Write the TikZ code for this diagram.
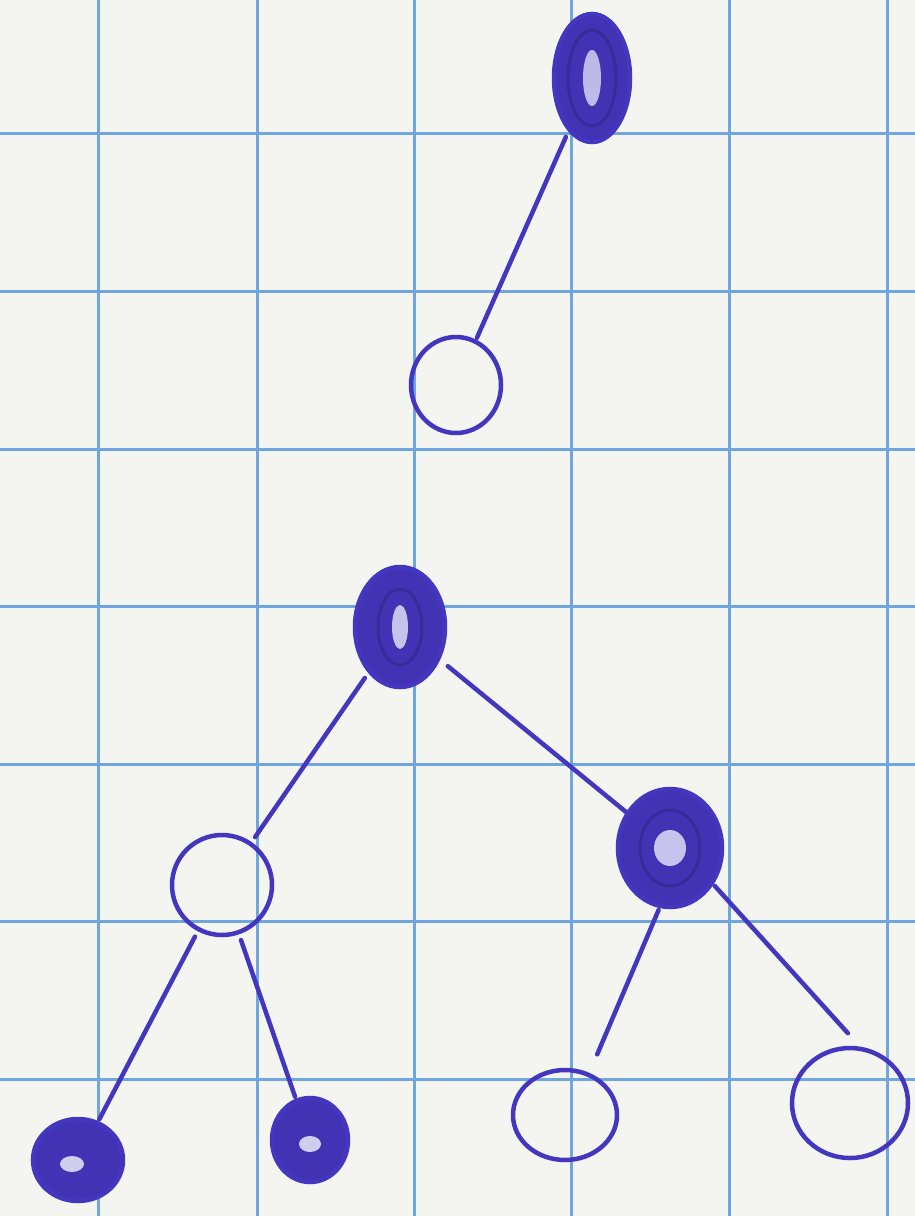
\documentclass[tikz,border=0pt]{standalone}
\usetikzlibrary{shapes.geometric}
\definecolor{paper}{HTML}{F4F4F1}
\definecolor{gridblue}{HTML}{6FA6DE}
\definecolor{ink}{HTML}{4436BE}
\tikzset{
  gridline/.style={gridblue, line width=3pt},
  hollow/.style={ellipse, draw=ink, line width=4.5pt, inner sep=0pt},
  solid/.style={ellipse, draw=ink, line width=4.5pt, fill=ink!95!black, inner sep=0pt},
  edge/.style={ink, line width=4.5pt, line cap=round, shorten <=4pt, shorten >=4pt},
}
\begin{document}
\begin{tikzpicture}[x=1pt,y=-1pt]
\fill[paper] (0,0) rectangle (915,1216);
\useasboundingbox (0,0) rectangle (915,1216);
\foreach \x in {98,257,414,571,729,887} \draw[gridline] (\x,0) -- (\x,1216);
\foreach \y in {133,291,449,606,764,921,1079} \draw[gridline] (0,\y) -- (915,\y);

\node[solid, minimum width=76pt, minimum height=128pt] (n1) at (592,78) {};
\node[hollow, minimum width=90pt, minimum height=96pt] (n2) at (456,385) {};
\node[solid, minimum width=90pt, minimum height=120pt] (n3) at (400,627) {};
\node[hollow, minimum width=100pt, minimum height=100pt] (n4) at (222,885) {};
\node[solid, minimum width=104pt, minimum height=118pt] (n5) at (670,848) {};
\node[solid, minimum width=90pt, minimum height=82pt] (n6) at (78,1160) {};
\node[solid, minimum width=76pt, minimum height=84pt] (n7) at (310,1140) {};
\node[hollow, minimum width=104pt, minimum height=90pt] (n8) at (565,1115) {};
\node[hollow, minimum width=116pt, minimum height=110pt] (n9) at (850,1103) {};

% inner highlights of the scribbled nodes
\fill[ink!35] (n1.center) ellipse (9pt and 28pt);
\draw[ink!80!black, line width=3pt] (n1.center) ellipse (24pt and 48pt);
\fill[ink!30] (n3.center) ellipse (8pt and 22pt);
\draw[ink!80!black, line width=3pt] (n3.center) ellipse (22pt and 38pt);
\fill[ink!30] (n5.center) ellipse (16pt and 18pt);
\draw[ink!80!black, line width=3pt] (n5.center) ellipse (30pt and 38pt);
\fill[ink!25] ([xshift=-6pt,yshift=-4pt]n6.center) ellipse (12pt and 8pt);
\fill[ink!25] ([yshift=-4pt]n7.center) ellipse (11pt and 8pt);

\draw[edge, shorten <=6pt, shorten >=2pt] (n1) -- (n2);
\draw[edge, shorten <=6pt, shorten >=6pt] (n3) -- (n4);
\draw[edge, shorten <=10pt, shorten >=0pt] (n3) -- (n5);
\draw[edge, shorten <=6pt, shorten >=2pt] (n4) -- (n6);
\draw[edge, shorten <=6pt, shorten >=2pt] (n4) -- (n7);
\draw[edge, shorten <=2pt, shorten >=20pt] (n5.-100) -- (n8.60);
\draw[edge, shorten <=2pt, shorten >=18pt] (n5.-40) -- (n9.80);
\end{tikzpicture}
\end{document}
